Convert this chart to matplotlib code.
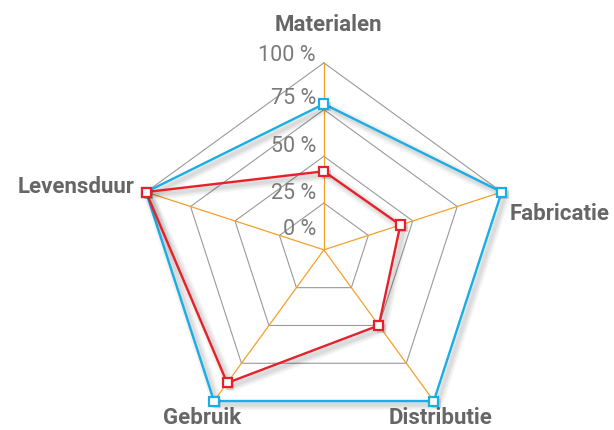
import numpy as np
import matplotlib
matplotlib.use("Agg")
import matplotlib.pyplot as plt
import matplotlib.patheffects as pe
import matplotlib.transforms as mtransforms

categories = ["Materialen", "Fabricatie", "Distributie", "Gebruik", "Levensduur"]
blue_values = [78, 100, 100, 100, 100]
red_values = [42, 43, 50, 88, 100]
ring_values = [25, 50, 75, 100]
tick_labels = ["0 %", "25 %", "50 %", "75 %", "100 %"]
tick_values = [0, 25, 50, 75, 100]

fig = plt.figure(figsize=(6.14, 4.30), dpi=100)
ax = fig.add_axes([0.223, -0.016, 0.609, 0.870], projection="polar")
ax.set_theta_offset(np.pi / 2)
ax.set_theta_direction(-1)
ax.set_ylim(0, 100)
ax.axis("off")


def px(ox, oy):
    # offset in pixels
    return ax.transData + mtransforms.ScaledTranslation(ox / 100, oy / 100, fig.dpi_scale_trans)


n = len(categories)
theta = np.arange(n) * 2 * np.pi / n
theta_closed = np.append(theta, theta[0])

# pentagon rings
for r in ring_values:
    ax.plot(theta_closed, [r] * (n + 1), color="#9a9a9a", lw=0.8, zorder=1, clip_on=False)

# spokes
for t in theta:
    ax.plot([t, t], [0, 100], color="#f5a02a", lw=0.9, zorder=2, clip_on=False)

# soft blurred drop shadow
shadow = [pe.SimpleLineShadow(offset=(2.5, -2.5), shadow_color="black", alpha=0.035, linewidth=w)
          for w in (8, 6, 4, 2.5)] + [pe.Normal()]
mshadow = [pe.SimplePatchShadow(offset=(2, -2), shadow_rgbFace="black", alpha=0.12), pe.Normal()]

for vals, col in [(blue_values, "#19aee6"), (red_values, "#e8202a")]:
    v = np.append(vals, vals[0])
    ax.plot(theta_closed, v, color=col, lw=1.7, zorder=3, path_effects=shadow, clip_on=False)
    ax.plot(theta, vals, ls="none", marker="s", ms=6.5, mfc="white", mec=col,
            mew=1.6, zorder=4, path_effects=mshadow, clip_on=False)

# radial tick labels along the top spoke
tick_dy = [20, 10, 9.5, 11.5, 7]
for val, lab, dy in zip(tick_values, tick_labels, tick_dy):
    ax.text(0, val, lab, transform=px(-8, dy), ha="right", va="center",
            fontsize=15.5, color="#7a7a7a", family="Roboto", zorder=5)

# category labels
label_pos = [(0, 120, "center", "center"),
             (theta[1], 108, "left", "center"),
             (theta[2], 106, "center", "top"),
             (theta[3], 106, "center", "top"),
             (theta[4], 108, "right", "center")]
offsets = [(4, 0), (-6, -27), (0, 3), (-5, 3), (3, 0)]
for (t, r, ha, va), lab, (ox, oy) in zip(label_pos, categories, offsets):
    ax.text(t, r, lab, transform=px(ox, oy), ha=ha, va=va, fontsize=16,
            fontweight="bold", color="#666666", family="Roboto")

fig.savefig("out.png", dpi=100)
